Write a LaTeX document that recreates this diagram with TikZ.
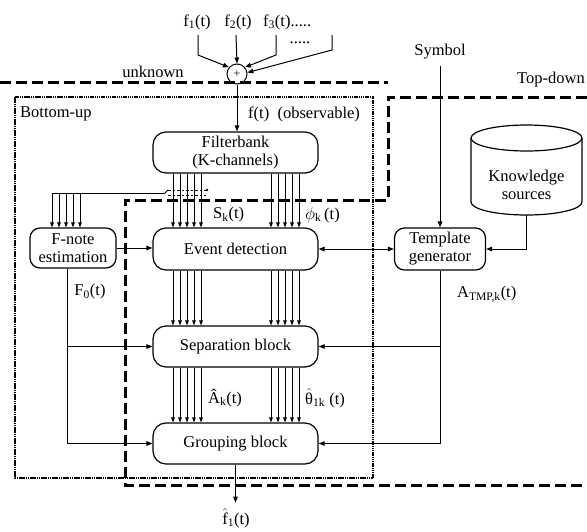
\documentclass[tikz,border=0pt]{standalone}
\usepackage{fontspec}
\usepackage{amsmath}
\setmainfont{Liberation Serif}
\usetikzlibrary{arrows.meta}
\newcommand\hatted[1]{\ensuremath{\hat{\text{#1}}}}
\begin{document}
\begin{tikzpicture}[x=1pt,y=1pt,
  every node/.style={font=\fontsize{16.5}{18}\selectfont},
  blk/.style={draw,line width=1.2pt,rounded corners=13pt,fill=white,minimum width=165pt,inner sep=0pt,align=center},
  smallblk/.style={draw,line width=1.2pt,rounded corners=10pt,fill=white,inner sep=0pt,align=center},
  lbl/.style={inner sep=0pt},
  conn/.style={line width=1pt},
  arr/.style={conn,-{Triangle[length=6pt,width=4.5pt]}},
  dblarr/.style={conn,{Triangle[length=6pt,width=4.5pt]}-{Triangle[length=6pt,width=4.5pt]}},
  busarr/.style={line width=0.75pt,-{Triangle[length=5pt,width=3.6pt]}},
  bound/.style={line width=3pt,dash pattern=on 11pt off 5pt},
  region/.style={line width=2.8pt,dash pattern=on 1.5pt off 0.7pt}]

\useasboundingbox (0,0) rectangle (587,-531);

% region boundaries
\draw[bound] (0,-82) -- (388,-82);
\draw[bound] (587,-97) -- (388,-97) -- (388,-200) -- (125,-200) -- (125,-485) -- (587,-485);
\draw[region] (15,-97) rectangle (373,-478);

% region labels
\node[lbl,anchor=center] at (153,-72) {unknown};
\node[lbl,anchor=west] at (20,-114) {Bottom-up};
\node[lbl,anchor=west] at (517,-80) {Top-down};

% processing blocks
\node[blk,minimum height=41pt] (fb) at (235.5,-152.5) {Filterbank\\(K-channels)};
\node[blk,minimum height=42pt] (ev) at (235.5,-249) {Event detection};
\node[blk,minimum height=41pt] (sep) at (235.5,-346.5) {Separation block};
\node[blk,minimum height=41pt] (grp) at (235.5,-443.5) {Grouping block};
\node[smallblk,minimum width=86pt,minimum height=40pt] (fnote) at (73,-248) {F-note\\estimation};
\node[smallblk,minimum width=91pt,minimum height=42pt] (tmpl) at (440,-249) {Template\\generator};

% knowledge store
\draw[line width=1.2pt,fill=white] (471,-138) -- (471,-202)
  arc[start angle=180,end angle=360,x radius=55.5pt,y radius=13pt] -- (582,-138);
\draw[line width=1.2pt,fill=white] (526.5,-138) ellipse [x radius=55.5pt,y radius=13pt];
\node[lbl,align=center] (ks) at (526.5,-185) {Knowledge\\sources};
\coordinate (ksb) at (526.5,-215);

% mixing of the sources
\node[draw,circle,line width=1pt,minimum size=20pt,inner sep=0pt] (sum) at (237,-74) {\fontsize{12}{12}\selectfont +};
\node[lbl] (f1) at (197,-22) {f\textsubscript{1}(t)};
\node[lbl] (f2) at (238,-22) {f\textsubscript{2}(t)};
\node[lbl,anchor=west] (f3) at (263,-22) {f\textsubscript{3}(t).....};
\node[lbl] (fdots) at (300,-43) {.....};
\draw[arr] (198,-35) -- (198,-55) -- (sum.140);
\draw[arr] (236,-35) -- (sum.north);
\draw[arr] (276,-35) -- (276,-55) -- (sum.40);
\draw[arr] (332,-35) -- (332,-50) -- (sum.8);
\draw[arr] (sum.south) -- (sum.south |- fb.north);
\node[lbl,anchor=west] at (248,-114) {f(t)\ \ (observable)};

% channel bundles
\foreach \d in {-62.5,-55.5,-48.5,-41.5,-34.5,35.5,42.5,49.5,56.5,63.5} {
  \draw[busarr] ([xshift=\d pt]fb.south) -- ([xshift=\d pt]ev.north);
  \draw[busarr] ([xshift=\d pt]ev.south) -- ([xshift=\d pt]sep.north);
  \draw[busarr] ([xshift=\d pt]sep.south) -- ([xshift=\d pt]grp.north);
}

% channels tapped for the F-note estimation
\coordinate (tap) at (165,-193);
\draw[line width=0.75pt] (tap) -- (52,-193);
\draw[line width=0.75pt] (tap) to[out=0,in=180] (168,-190);
\draw[line width=0.75pt,dash pattern=on 2.5pt off 2pt] (168,-190) -- (206,-190);
\draw[line width=0.75pt,dash pattern=on 2.5pt off 2pt] (168,-195) -- (206,-195);
\fill (207,-190) circle (1.3pt);
\foreach \d in {-21,-14,-7,0,7}
  \draw[busarr] ([xshift=\d pt]fnote.north |- tap) -- ([xshift=\d pt]fnote.north);

% signal labels
\node[lbl,anchor=west] at (213,-215) {S\textsubscript{k}(t)};
\node[lbl,anchor=west] at (305,-215) {$\phi$\textsubscript{k}\,(t)};
\node[lbl,anchor=west] at (208,-398) {Â\textsubscript{k}(t)};
\node[lbl,anchor=west] at (305,-398) {\hatted{θ}\textsubscript{1k}\ (t)};

% F0 path
\draw[arr] (fnote.east) -- (fnote.east -| ev.west);
\coordinate (fo) at ([xshift=-6pt]fnote.south);
\draw[arr] (fo) |- (grp.west);
\draw[arr] (fo |- sep.west) -- (sep.west);
\node[lbl] at (90,-292) {F\textsubscript{0}(t)};

% template path
\draw[dblarr] (ev.east) -- (ev.east -| tmpl.west);
\node[lbl] (sym) at (440,-52) {Symbol};
\draw[arr] ([yshift=-6pt]sym.south) -- (tmpl.north);
\draw[arr] (ksb) |- (tmpl.east);
\draw[arr] (tmpl.south) |- (grp.east);
\draw[arr] (tmpl.south |- sep.east) -- (sep.east);
\node[lbl,anchor=west] at (457,-294) {A\textsubscript{TMP,k}(t)};

% output
\draw[arr] (grp.south) -- ++(0,-38) coordinate (outtip);
\node[lbl] (out) at (236,-518) {\hatted{f}\textsubscript{1}(t)};
\end{tikzpicture}
\end{document}
